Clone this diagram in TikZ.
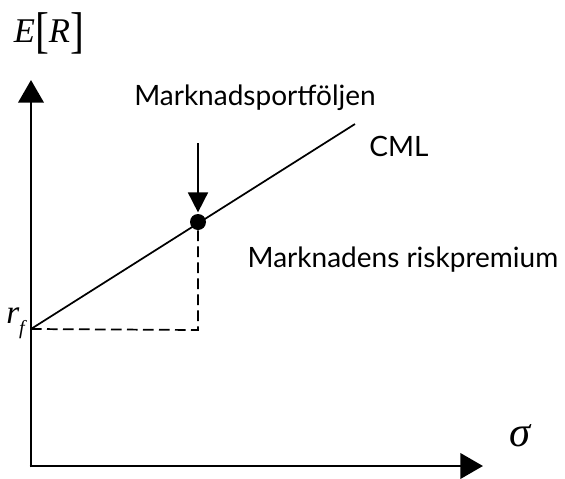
\documentclass[tikz,border=0pt]{standalone}
\usepackage{fontspec}
\setmainfont{Lato}
\newfontfamily\tms{Liberation Serif}
\usetikzlibrary{arrows.meta, positioning}

\newcommand{\tallbr}[1]{\raisebox{-0.12em}{\scalebox{1.2}[1.45]{\upshape #1}}}

\begin{document}
\begin{tikzpicture}[x=0.75pt, y=-0.75pt,
        ax/.style={line width=2.2pt, -{Triangle[length=17pt, width=19pt]}},
        cml/.style={line width=1.3pt},
        dsh/.style={line width=1.3pt, dash pattern=on 8pt off 4pt},
        pt/.style={circle, fill=black, minimum size=12pt, inner sep=0pt},
        lab/.style={font=\fontsize{21}{24}\selectfont, anchor=base, inner sep=0pt},
        sym/.style={font=\fontsize{25}{30}\selectfont\tms\itshape, inner sep=0pt}]
      \useasboundingbox (0,0) rectangle (565,479);
      \coordinate (o) at (31,466);
      \coordinate (ytip) at (31,80);
      \coordinate (xtip) at (483,466);
      \coordinate (rf) at (31,329);
      \coordinate (cmlend) at (355,124);
      \coordinate (base) at (198,330);
      \coordinate (arrtop) at (198,143);
      \draw[ax] ([yshift=-1pt]o) -- (ytip);
      \draw[ax] ([xshift=-1pt]o) -- (xtip);
      \draw[cml] (rf) -- (cmlend);
      \node[pt] (mkt) at (198,222) {};
      \draw[dsh] (rf) -- (base) -- (mkt);
      \draw[line width=1.3pt, -{Triangle[length=15pt, width=15pt]}] (arrtop) -- ([yshift=1pt]mkt.north);
      \node[lab] (mktlab) at (255,105) {Marknadsportföljen};
      \node[lab] (cmllab) at (399,156) {CML};
      \node[lab] (prem) at (403,267) {Marknadens riskpremium};
      \node[sym, font=\fontsize{26}{30}\selectfont\tms\itshape] (er) at (49,33) {E\tallbr{[}R\tallbr{]}};
      \node[sym, anchor=base west] (rflab) at (6,323) {r\raisebox{-0.35em}{\fontsize{15}{18}\selectfont f}};
      \node[sym, font=\fontsize{32}{36}\selectfont\tms\itshape] (sig) at (520,436) {σ};
    \end{tikzpicture}
\end{document}
